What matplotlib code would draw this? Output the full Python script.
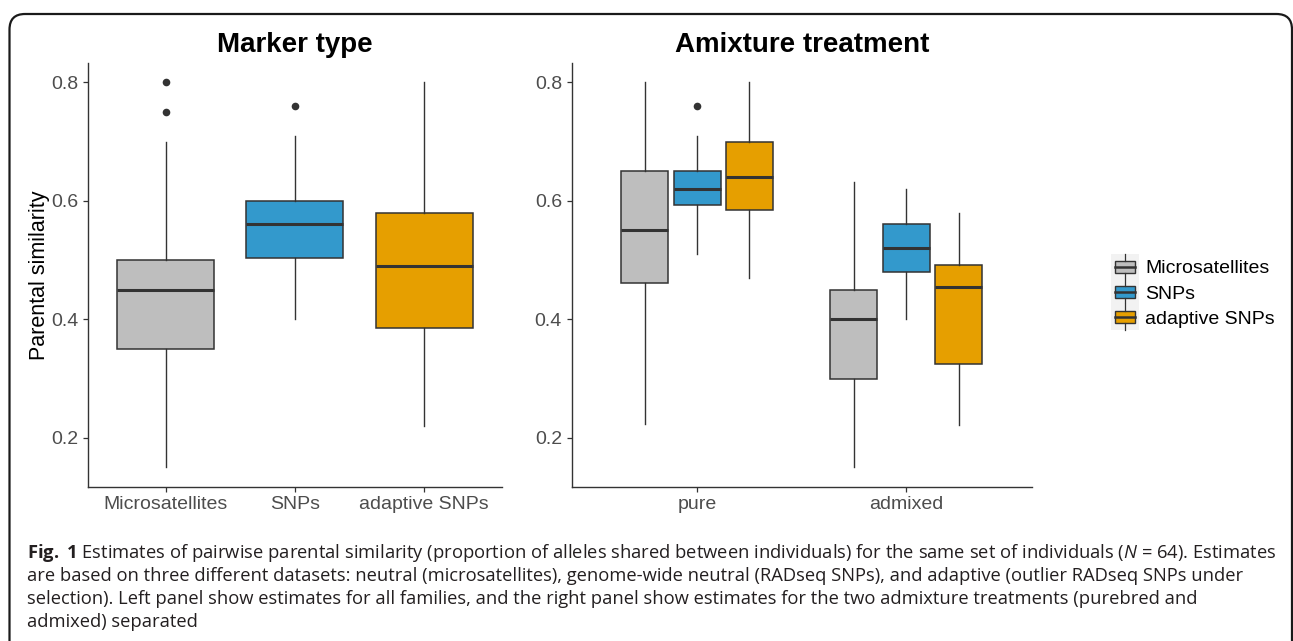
import matplotlib
matplotlib.use("Agg")
import matplotlib.pyplot as plt
from matplotlib.patches import Rectangle, FancyBboxPatch
from matplotlib.lines import Line2D
from matplotlib.legend_handler import HandlerBase

plt.rcParams["font.family"] = ["Liberation Sans", "DejaVu Sans"]
plt.rcParams["mathtext.fontset"] = "custom"
plt.rcParams["mathtext.rm"] = "Open Sans"
plt.rcParams["mathtext.it"] = "Open Sans:italic"
plt.rcParams["mathtext.bf"] = "Open Sans:bold"

# ---- data ----
markers = ["Microsatellites", "SNPs", "adaptive SNPs"]
colors = ["#BEBEBE", "#3399CC", "#E69F00"]

# left panel: all families
all_whislo = [0.15, 0.40, 0.22]
all_q1     = [0.35, 0.503, 0.385]
all_med    = [0.45, 0.56, 0.49]
all_q3     = [0.50, 0.60, 0.58]
all_whishi = [0.70, 0.71, 0.80]
all_fliers = [[0.75, 0.80], [0.76], []]

# right panel: by admixture treatment
treatments = ["pure", "admixed"]
pure_whislo = [0.223, 0.511, 0.47]
pure_q1     = [0.462, 0.593, 0.585]
pure_med    = [0.55, 0.62, 0.64]
pure_q3     = [0.65, 0.65, 0.70]
pure_whishi = [0.80, 0.71, 0.80]
pure_fliers = [[], [0.76], []]

adm_whislo = [0.15, 0.40, 0.221]
adm_q1     = [0.30, 0.48, 0.325]
adm_med    = [0.40, 0.52, 0.455]
adm_q3     = [0.45, 0.56, 0.492]
adm_whishi = [0.631, 0.62, 0.58]
adm_fliers = [[], [], []]

caption_lines = [
    r"$\mathbf{Fig.}$ $\mathbf{1}$ Estimates of pairwise parental similarity (proportion of alleles shared "
    r"between individuals) for the same set of individuals ($\mathit{N}$ = 64). Estimates",
    "are based on three different datasets: neutral (microsatellites), genome-wide neutral "
    "(RADseq SNPs), and adaptive (outlier RADseq SNPs under",
    "selection). Left panel show estimates for all families, and the right panel show "
    "estimates for the two admixture treatments (purebred and",
    "admixed) separated",
]

DARK = "#333333"
W, H = 1293, 641


def make_stats(whislo, q1, med, q3, whishi, fliers):
    return [dict(whislo=a, q1=b, med=c, q3=d, whishi=e, fliers=f)
            for a, b, c, d, e, f in zip(whislo, q1, med, q3, whishi, fliers)]


def draw_boxes(ax, stats, positions, width, cols):
    parts = ax.bxp(stats, positions=positions, widths=width, patch_artist=True,
                   showcaps=False, manage_ticks=False,
                   boxprops=dict(edgecolor=DARK, linewidth=1.1),
                   whiskerprops=dict(color=DARK, linewidth=1.0),
                   medianprops=dict(color=DARK, linewidth=2.2),
                   flierprops=dict(marker="o", markersize=5.5, markerfacecolor=DARK,
                                   markeredgecolor="none"))
    for box, c in zip(parts["boxes"], cols):
        box.set_facecolor(c)


def style_axes(ax, title):
    ax.spines[["top", "right"]].set_visible(False)
    for s in ("left", "bottom"):
        ax.spines[s].set_color(DARK)
        ax.spines[s].set_linewidth(1.0)
    ax.set_ylim(0.1175, 0.8325)
    ax.set_yticks([0.2, 0.4, 0.6, 0.8])
    ax.set_yticklabels(["0.2", "0.4", "0.6", "0.8"])
    ax.tick_params(colors=DARK, labelcolor="#4D4D4D", labelsize=14, length=3.5, width=0.9)
    ax.set_title(title, fontsize=20, fontweight="bold", pad=8)


def px_axes(x0, x1, y0, y1):
    return [x0 / W, 1 - y1 / H, (x1 - x0) / W, (y1 - y0) / H]


class BoxKeyHandler(HandlerBase):
    def create_artists(self, legend, orig_handle, xdescent, ydescent,
                       width, height, fontsize, trans):
        x0, y0 = -xdescent, -ydescent
        bg = Rectangle((x0 - 1, y0 - 2), width + 2, height + 4, facecolor="#F2F2F2",
                       edgecolor="none", transform=trans)
        bx = Rectangle((x0 + width * 0.1, y0 + height * 0.22), width * 0.8, height * 0.56,
                       facecolor=orig_handle.get_facecolor(), edgecolor=DARK,
                       linewidth=1.0, transform=trans)
        xm = x0 + width / 2
        med = Line2D([x0 + width * 0.1, x0 + width * 0.9], [y0 + height / 2] * 2,
                     color=DARK, linewidth=1.8, transform=trans)
        w1 = Line2D([xm, xm], [y0 + height * 0.78, y0 + height + 2], color=DARK,
                    linewidth=0.9, transform=trans)
        w2 = Line2D([xm, xm], [y0 - 2, y0 + height * 0.22], color=DARK,
                    linewidth=0.9, transform=trans)
        return [bg, bx, med, w1, w2]


fig = plt.figure(figsize=(W / 100, H / 100), dpi=100)

# left panel
ax1 = fig.add_axes(px_axes(88, 501.7, 63, 486.7))
stats_all = make_stats(all_whislo, all_q1, all_med, all_q3, all_whishi, all_fliers)
draw_boxes(ax1, stats_all, [1, 2, 3], 0.75, colors)
ax1.set_xlim(0.4, 3.6)
ax1.set_xticks([1, 2, 3])
ax1.set_xticklabels(markers)
style_axes(ax1, "Marker type")
ax1.set_ylabel("Parental similarity", fontsize=15.5, labelpad=1)

# right panel
ax2 = fig.add_axes(px_axes(571.7, 1031.7, 63, 486.7))
offsets = [-0.25, 0.0, 0.25]
stats_pure = make_stats(pure_whislo, pure_q1, pure_med, pure_q3, pure_whishi, pure_fliers)
stats_adm = make_stats(adm_whislo, adm_q1, adm_med, adm_q3, adm_whishi, adm_fliers)
draw_boxes(ax2, stats_pure, [1 + o for o in offsets], 0.225, colors)
draw_boxes(ax2, stats_adm, [2 + o for o in offsets], 0.225, colors)
ax2.set_xlim(0.4, 2.6)
ax2.set_xticks([1, 2])
ax2.set_xticklabels(treatments)
style_axes(ax2, "Amixture treatment")

# legend
handles = [Rectangle((0, 0), 1, 1, facecolor=c) for c in colors]
fig.legend(handles, markers, loc="center left",
           bbox_to_anchor=(1112 / W, 1 - 292 / H), frameon=False, fontsize=14,
           handler_map={Rectangle: BoxKeyHandler()},
           handlelength=1.3, handleheight=1.3, handletextpad=0.4,
           labelspacing=0.2, borderpad=0, borderaxespad=0)

# caption
for i, line in enumerate(caption_lines):
    fig.text(27 / W, 1 - (557.5 + i * 23.2) / H, line, fontsize=13.2,
             family="Open Sans", color="#231F20", va="baseline", ha="left")

# rounded frame around the figure
frame = FancyBboxPatch((9.5 / W, -0.2), (1292 - 9.5) / W, 0.2 + 1 - 14 / H,
                       boxstyle="round,pad=0,rounding_size=0.012",
                       transform=fig.transFigure, facecolor="none",
                       edgecolor="#1A1A1A", linewidth=1.6, mutation_aspect=W / H)
fig.patches.append(frame)

fig.savefig("out.png", dpi=100)
